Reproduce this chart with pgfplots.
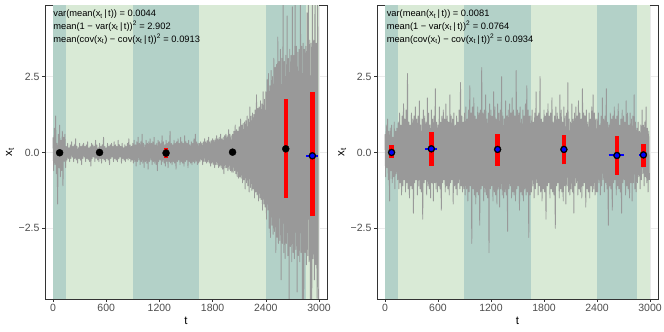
\documentclass[border=0pt]{standalone}
\usepackage{pgfplots}
\usepackage{pgfplotstable}
\pgfplotsset{compat=1.18}
\usepackage{fontspec}
\setmainfont{Liberation Sans}
\definecolor{bandD}{RGB}{179,209,200}
\definecolor{bandL}{RGB}{217,234,214}
\definecolor{series}{RGB}{153,153,153}
\definecolor{ticklab}{RGB}{77,77,77}
\definecolor{frame}{RGB}{51,51,51}
\tikzset{noteFont/.style={font=\fontsize{9.3}{12.6}\selectfont}}

% left panel series (t = 7.5 * index)
\pgfplotstableread[row sep=\\]{y\\
0.5\\-0.6\\0.8\\-0.4\\1.2\\-0.7\\0.3\\-1.7\\0.6\\-0.5\\0.9\\-0.8\\0.4\\-0.6\\0.7\\-1.1\\0.5\\-0.3\\0.6\\-0.5\\
0.2\\-0.25\\0.3\\-0.2\\0.15\\-0.3\\0.25\\-0.2\\0.35\\-0.15\\
0.2\\-0.3\\0.25\\-0.2\\0.45\\-0.25\\0.2\\-0.35\\0.15\\-0.2\\
0.3\\-0.25\\0.2\\-0.4\\0.25\\-0.2\\0.3\\-0.15\\0.2\\-0.3\\
0.25\\-0.2\\0.35\\-0.25\\0.15\\-0.3\\0.2\\-0.45\\0.3\\-0.2\\
0.25\\-0.15\\0.2\\-0.3\\0.4\\-0.2\\0.25\\-0.25\\0.15\\-0.3\\
0.3\\-0.2\\0.2\\-0.35\\0.25\\-0.2\\0.5\\-0.25\\0.2\\-0.3\\
0.15\\-0.2\\0.3\\-0.25\\0.2\\-0.4\\0.25\\-0.2\\0.3\\-0.15\\
0.2\\-0.3\\0.35\\-0.2\\0.25\\-0.25\\0.2\\-0.3\\0.4\\-0.2\\
0.25\\-0.15\\0.2\\-0.35\\0.3\\-0.2\\0.15\\-0.25\\0.25\\-0.3\\
0.2\\-0.2\\0.3\\-0.25\\0.45\\-0.2\\0.25\\-0.3\\0.2\\-0.25\\
0.3\\-0.35\\0.4\\-0.3\\0.25\\-0.45\\0.35\\-0.3\\0.5\\-0.25\\
0.3\\-0.4\\0.35\\-0.3\\0.6\\-0.35\\0.3\\-0.5\\0.25\\-0.3\\
0.4\\-0.35\\0.3\\-0.55\\0.35\\-0.3\\0.45\\-0.25\\0.3\\-0.4\\
0.35\\-0.3\\0.5\\-0.35\\0.25\\-0.4\\0.3\\-0.6\\0.4\\-0.3\\
0.35\\-0.25\\0.3\\-0.4\\0.55\\-0.3\\0.35\\-0.35\\0.25\\-0.45\\
0.4\\-0.3\\0.3\\-0.5\\0.35\\-0.3\\0.7\\-0.35\\0.3\\-0.4\\
0.25\\-0.3\\0.4\\-0.35\\0.3\\-0.55\\0.35\\-0.3\\0.45\\-0.25\\
0.3\\-0.4\\0.5\\-0.3\\0.35\\-0.35\\0.3\\-0.45\\0.55\\-0.3\\
0.35\\-0.25\\0.3\\-0.5\\0.4\\-0.3\\0.25\\-0.35\\0.35\\-0.4\\
0.3\\-0.3\\0.45\\-0.35\\0.6\\-0.3\\0.35\\-0.4\\0.3\\-0.35\\
0.3\\-0.3\\0.35\\-0.25\\0.3\\-0.4\\0.35\\-0.3\\0.45\\-0.3\\
0.35\\-0.35\\0.4\\-0.3\\0.5\\-0.35\\0.35\\-0.45\\0.4\\-0.35\\
0.45\\-0.4\\0.4\\-0.5\\0.45\\-0.4\\0.55\\-0.4\\0.45\\-0.5\\
0.5\\-0.45\\0.6\\-0.5\\0.45\\-0.55\\0.5\\-0.7\\0.55\\-0.5\\
0.6\\-0.5\\0.55\\-0.6\\0.75\\-0.55\\0.6\\-0.6\\0.55\\-0.65\\
0.6\\-0.65\\0.7\\-0.6\\0.9\\-0.7\\0.75\\-0.8\\0.7\\-0.85\\
0.85\\-0.8\\1.1\\-0.85\\0.9\\-1.0\\0.95\\-0.9\\1.0\\-1.2\\
1.05\\-1.0\\1.2\\-1.1\\1.1\\-1.3\\1.5\\-1.15\\1.2\\-1.25\\
1.3\\-1.2\\1.25\\-1.5\\1.4\\-1.3\\1.9\\-1.4\\1.45\\-1.6\\
1.5\\-1.5\\1.7\\-1.55\\1.6\\-1.9\\2.0\\-1.7\\1.75\\-1.8\\
2.0\\-2.2\\2.4\\-1.9\\2.6\\-2.5\\2.2\\-2.8\\2.7\\-2.4\\
2.5\\-2.7\\3.1\\-2.6\\2.8\\-3.3\\2.9\\-2.8\\3.8\\-3.0\\
3.0\\-2.9\\3.4\\-4.2\\3.1\\-3.0\\5.5\\-3.3\\3.0\\-3.5\\
3.2\\-3.0\\4.5\\-3.4\\3.1\\-5.2\\3.4\\-3.1\\3.2\\-3.6\\
4.8\\-3.3\\3.2\\-3.5\\5.2\\-3.2\\3.5\\-4.6\\3.3\\-3.4\\
3.4\\-3.6\\6.0\\-3.3\\3.5\\-4.9\\3.6\\-5.5\\3.4\\-3.3\\
3.5\\-3.7\\4.6\\-3.4\\6.0\\-3.6\\3.7\\-5.0\\3.6\\-6.0\\
4.9\\-3.5\\3.7\\-4.2\\5.8\\-3.7\\3.6\\-4.8\\6.0\\-5.5\\
}\leftdata

% right panel series (t = 7.5 * index)
\pgfplotstableread[row sep=\\]{y\\
0.6\\-0.8\\0.9\\-0.5\\1.1\\-0.9\\0.7\\-1.6\\0.8\\-0.6\\0.9\\-1.0\\0.5\\-0.8\\1.0\\-1.2\\0.7\\-0.7\\0.8\\-0.9\\
1.0\\-1.2\\1.3\\-1.0\\0.9\\-1.4\\1.2\\-1.1\\1.6\\-0.9\\
1.1\\-1.3\\1.4\\-1.0\\2.6\\-1.2\\1.0\\-1.5\\0.9\\-1.1\\
1.3\\-1.2\\1.1\\-2.0\\1.2\\-1.0\\1.5\\-0.9\\1.1\\-1.4\\
1.2\\-1.1\\1.7\\-1.2\\0.9\\-1.3\\1.1\\-2.2\\1.4\\-1.0\\
1.2\\-0.9\\1.0\\-1.4\\1.8\\-1.1\\1.3\\-1.2\\0.9\\-1.5\\
1.4\\-1.0\\1.1\\-1.6\\1.2\\-1.0\\2.1\\-1.2\\1.0\\-1.3\\
0.9\\-1.1\\1.5\\-1.2\\1.0\\-1.9\\1.2\\-1.0\\1.4\\-0.9\\
1.1\\-1.3\\1.6\\-1.1\\1.2\\-1.2\\1.0\\-1.4\\1.9\\-1.0\\
1.2\\-0.9\\1.1\\-1.7\\1.3\\-1.1\\0.9\\-1.2\\1.2\\-1.4\\
1.0\\-1.0\\1.4\\-1.2\\2.3\\-1.1\\1.2\\-1.3\\1.0\\-1.2\\
1.3\\-1.4\\1.5\\-1.2\\1.1\\-1.6\\1.4\\-1.3\\2.2\\-1.1\\
1.3\\-3.0\\1.5\\-1.2\\1.8\\-1.4\\1.2\\-1.7\\1.1\\-1.3\\
1.5\\-1.4\\1.3\\-2.4\\1.4\\-1.2\\2.8\\-1.1\\1.3\\-1.6\\
1.4\\-1.3\\1.9\\-1.4\\1.1\\-1.5\\1.3\\-3.3\\1.6\\-1.2\\
1.4\\-1.1\\1.2\\-1.6\\2.0\\-1.3\\1.5\\-1.4\\1.1\\-1.7\\
1.6\\-1.2\\1.3\\-1.8\\1.4\\-1.2\\2.5\\-1.4\\1.2\\-1.5\\
1.1\\-1.3\\1.7\\-1.4\\1.2\\-2.6\\1.4\\-1.2\\1.6\\-1.1\\
1.3\\-1.5\\1.8\\-1.3\\1.4\\-1.4\\1.2\\-1.6\\2.7\\-1.2\\
1.4\\-1.1\\1.3\\-1.9\\1.5\\-1.3\\1.1\\-1.4\\1.4\\-1.6\\
1.2\\-1.2\\1.6\\-1.4\\2.2\\-1.3\\1.4\\-2.8\\1.2\\-1.4\\
1.2\\-1.3\\1.4\\-1.1\\1.0\\-1.5\\1.3\\-1.2\\2.0\\-1.0\\
1.2\\-1.4\\1.3\\-1.1\\2.5\\-1.3\\1.1\\-1.6\\1.0\\-1.2\\
1.4\\-1.3\\1.2\\-2.2\\1.3\\-1.1\\1.6\\-1.0\\1.2\\-1.5\\
1.3\\-1.2\\1.8\\-1.3\\1.0\\-1.4\\1.2\\-2.5\\1.5\\-1.1\\
1.3\\-1.0\\1.1\\-1.5\\1.9\\-1.2\\1.4\\-1.3\\1.0\\-1.6\\
1.5\\-1.1\\1.2\\-1.7\\1.3\\-1.1\\2.3\\-1.3\\1.1\\-1.4\\
1.0\\-1.2\\1.6\\-1.3\\1.1\\-2.0\\1.3\\-1.1\\1.5\\-1.0\\
1.2\\-1.4\\1.7\\-1.2\\1.3\\-1.3\\1.1\\-1.5\\2.1\\-1.1\\
1.3\\-1.0\\1.2\\-1.8\\1.4\\-1.2\\1.0\\-1.3\\1.3\\-1.5\\
1.1\\-1.1\\1.5\\-1.3\\1.9\\-1.2\\1.3\\-1.4\\1.1\\-1.3\\
1.1\\-1.3\\1.3\\-1.0\\0.9\\-1.4\\1.2\\-1.1\\1.8\\-0.9\\
1.1\\-1.3\\1.2\\-1.0\\2.1\\-1.2\\1.0\\-2.4\\0.9\\-1.1\\
1.3\\-1.2\\1.1\\-1.9\\1.2\\-1.0\\1.5\\-0.9\\1.1\\-1.4\\
1.2\\-1.1\\1.6\\-1.2\\0.9\\-1.3\\1.1\\-2.0\\1.4\\-1.0\\
1.2\\-0.9\\1.0\\-1.4\\1.7\\-1.1\\1.3\\-1.2\\0.9\\-1.5\\
1.3\\-1.0\\1.1\\-1.6\\1.2\\-1.0\\1.9\\-1.2\\1.0\\-1.3\\
0.8\\-1.0\\1.0\\-0.8\\0.7\\-1.2\\0.9\\-0.9\\1.4\\-0.7\\
0.9\\-1.1\\1.0\\-0.8\\1.5\\-1.0\\0.8\\-1.3\\0.7\\-0.9\\
}\rightdata

\pgfplotsset{
  panel/.style={
    scale only axis, width=282pt, height=294pt,
    xmin=-90, xmax=3090, ymin=-4.83, ymax=4.86,
    xtick={0,600,1200,1800,2400,3000},
    xticklabels={0,600,1200,1800,2400,3000},
    ytick={-2.5,0,2.5},
    yticklabels={−2.5,0.0,2.5},
    tick align=outside, tick pos=left,
    major tick length=3pt,
    every tick/.style={frame, line width=0.5pt},
    axis line style={frame, line width=0.6pt},
    tick label style={font=\fontsize{10.5}{12}\selectfont, text=ticklab},
    xticklabel style={yshift=1pt},
    yticklabel style={xshift=1pt},
    grid=major, grid style={color=black!8, line width=0.5pt},
    xlabel={t}, ylabel={x\textsubscript{t}},
    label style={font=\fontsize{11.5}{13}\selectfont},
    xlabel style={at={(axis description cs:0.5,-0.06)}, anchor=north, inner sep=0pt},
    ylabel style={at={(axis description cs:-0.124,0.5)}, anchor=center, inner sep=0pt},
  },
  band/.style={draw=none, fill=#1},
}
\newcommand{\bands}{%
  \addplot[band=bandD] coordinates {(0,-10) (150,-10) (150,10) (0,10)} --cycle;
  \addplot[band=bandL] coordinates {(150,-10) (900,-10) (900,10) (150,10)} --cycle;
  \addplot[band=bandD] coordinates {(900,-10) (1650,-10) (1650,10) (900,10)} --cycle;
  \addplot[band=bandL] coordinates {(1650,-10) (2400,-10) (2400,10) (1650,10)} --cycle;
  \addplot[band=bandD] coordinates {(2400,-10) (2850,-10) (2850,10) (2400,10)} --cycle;
  \addplot[band=bandL] coordinates {(2850,-10) (3000,-10) (3000,10) (2850,10)} --cycle;
}

\begin{document}
\begin{tikzpicture}[x=1pt,y=1pt]
\useasboundingbox (0,0) rectangle (664,332);

% ---------------- left panel ----------------
\begin{axis}[panel, at={(45pt,33pt)}, anchor=south west]
\bands
\addplot[series, line width=0.9pt, line join=round] table[x expr=\coordindex*7.5, y=y] {\leftdata};
% red intervals
\addplot[red, line width=4.5pt] coordinates {(1275,-0.17) (1275,0.14)};
\addplot[red, line width=4.5pt] coordinates {(2625,-1.49) (2625,1.76)};
\addplot[red, line width=4.5pt] coordinates {(2925,-2.1) (2925,1.98)};
% black points
\addplot[only marks, mark=*, mark size=3.5pt, black] coordinates {(75,-0.01) (525,0.0) (1275,-0.02) (2025,0.01) (2625,0.12) (2925,-0.11)};
% blue estimates
\addplot[blue, line width=2pt] coordinates {(2858,-0.11) (2990,-0.11)};
\addplot[only marks, mark=*, mark size=2pt, blue, draw=blue] coordinates {(2925,-0.11)};
\node[anchor=north west, align=left, inner sep=0pt, noteFont] at (rel axis cs:0.029,0.983)
 {var(mean(x\textsubscript{t}\,|\,t)) = 0.0044\\
  mean(1 − var(x\textsubscript{t}\,|\,t))\textsuperscript{2} = 2.902\\
  mean(cov(x\textsubscript{t}) − cov(x\textsubscript{t}\,|\,t))\textsuperscript{2} = 0.0913};
\end{axis}

% ---------------- right panel ----------------
\begin{axis}[panel, width=281pt, at={(377pt,33pt)}, anchor=south west]
\bands
\addplot[series, line width=0.9pt, line join=round] table[x expr=\coordindex*7.5, y=y] {\rightdata};
% red intervals
\addplot[red, line width=4.5pt] coordinates {(75,-0.19) (75,0.24)};
\addplot[red, line width=4.5pt] coordinates {(525,-0.43) (525,0.66)};
\addplot[red, line width=4.5pt] coordinates {(1275,-0.43) (1275,0.6)};
\addplot[red, line width=4.5pt] coordinates {(2025,-0.39) (2025,0.58)};
\addplot[red, line width=4.5pt] coordinates {(2625,-0.73) (2625,0.53)};
\addplot[red, line width=4.5pt] coordinates {(2925,-0.47) (2925,0.29)};
% black points
\addplot[only marks, mark=*, mark size=3.5pt, black] coordinates {(75,0.0) (525,0.12) (1275,0.1) (2025,0.1) (2625,-0.1) (2925,-0.08)};
% blue estimates
\addplot[blue, line width=2pt] coordinates {(55,0.0) (95,0.0)};
\addplot[blue, line width=2pt] coordinates {(455,0.12) (594,0.12)};
\addplot[blue, line width=2pt] coordinates {(1250,0.1) (1300,0.1)};
\addplot[blue, line width=2pt] coordinates {(2000,0.1) (2050,0.1)};
\addplot[blue, line width=2pt] coordinates {(2530,-0.1) (2710,-0.1)};
\addplot[blue, line width=2pt] coordinates {(2876,-0.08) (2958,-0.08)};
\addplot[only marks, mark=*, mark size=2pt, blue, draw=blue] coordinates {(75,0.0) (525,0.12) (1275,0.1) (2025,0.1) (2625,-0.1) (2925,-0.08)};
\node[anchor=north west, align=left, inner sep=0pt, noteFont] at (rel axis cs:0.034,0.983)
 {var(mean(x\textsubscript{t}\,|\,t)) = 0.0081\\
  mean(1 − var(x\textsubscript{t}\,|\,t))\textsuperscript{2} = 0.0764\\
  mean(cov(x\textsubscript{t}) − cov(x\textsubscript{t}\,|\,t))\textsuperscript{2} = 0.0934};
\end{axis}
\end{tikzpicture}
\end{document}
